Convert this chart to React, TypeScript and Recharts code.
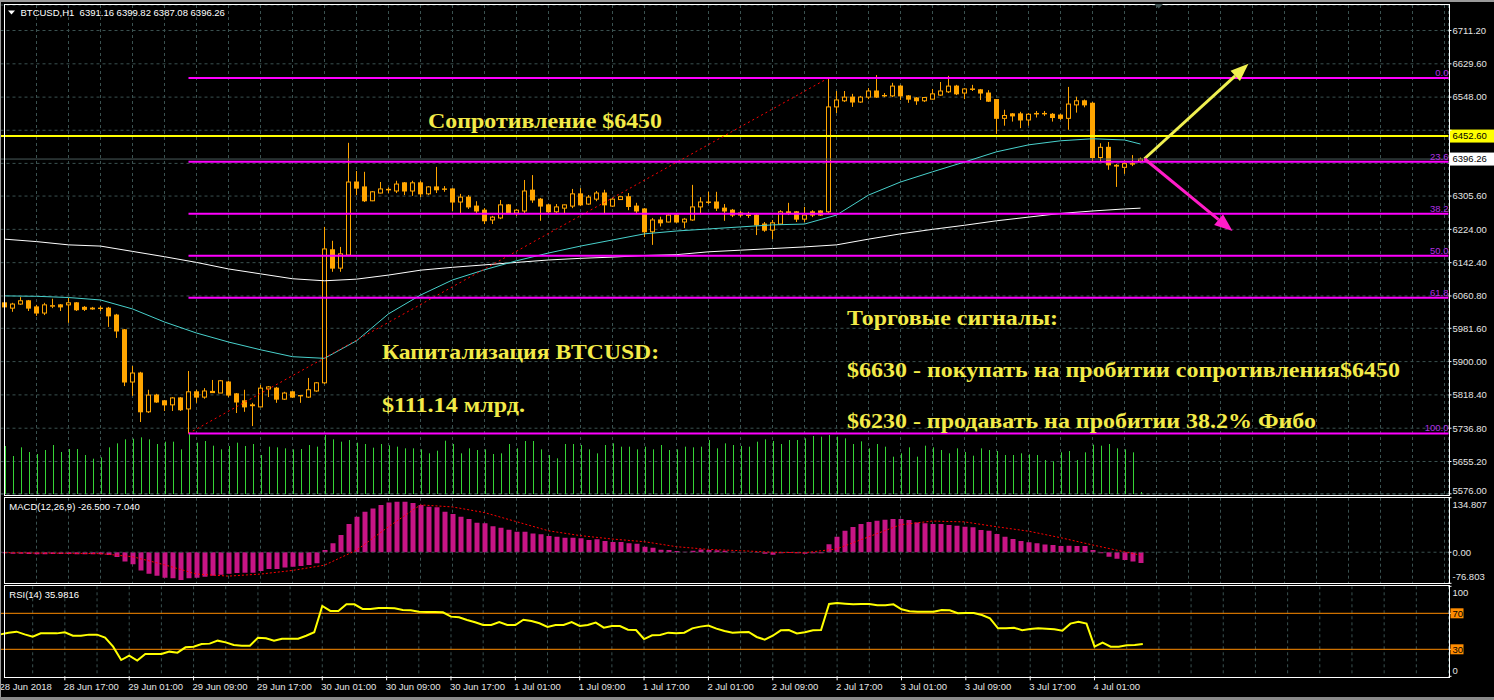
import React from 'react'
import {
  ComposedChart,
  Bar,
  Line,
  XAxis,
  YAxis,
  CartesianGrid,
  ReferenceLine,
} from 'recharts'

// BTCUSD H1, first bar 28 Jun 2018 09:00
const opens = [
  6044, 6031, 6041, 6049, 6034, 6019, 6036, 6039, 6039, 6044,
  6033, 6031, 6031, 6031, 6014, 5978, 5850, 5872, 5777, 5818,
  5804, 5794, 5811, 5784, 5826, 5813, 5827, 5823, 5850, 5821,
  5804, 5794, 5789, 5833, 5835, 5808, 5826, 5817, 5813, 5828,
  5848, 6174, 6129, 6161, 6340, 6328, 6294, 6313, 6321, 6318,
  6338, 6318, 6338, 6311, 6328, 6323, 6323, 6291, 6303, 6281,
  6271, 6247, 6252, 6284, 6264, 6269, 6320, 6298, 6284, 6267,
  6276, 6281, 6311, 6286, 6298, 6313, 6281, 6297, 6304, 6281,
  6274, 6218, 6247, 6242, 6259, 6242, 6247, 6279, 6291, 6291,
  6276, 6271, 6264, 6259, 6259, 6237, 6222, 6237, 6267, 6267,
  6249, 6267, 6269, 6267, 6524, 6539, 6548, 6536, 6548, 6563,
  6552, 6551, 6575, 6551, 6546, 6539, 6543, 6553, 6561, 6575,
  6558, 6567, 6566, 6558, 6542, 6496, 6507, 6507, 6492, 6507,
  6508, 6506, 6504, 6496, 6529, 6539, 6533, 6400, 6425, 6381,
  6376, 6384, 6391.16,
]
const highs = [
  6049, 6044, 6058, 6051, 6039, 6044, 6054, 6041, 6056, 6046,
  6036, 6034, 6036, 6034, 6017, 5980, 5889, 5875, 5831, 5821,
  5806, 5813, 5813, 5877, 5831, 5835, 5855, 5855, 5853, 5823,
  5831, 5799, 5843, 5840, 5838, 5826, 5828, 5818, 5860, 5850,
  6230, 6196, 6181, 6436, 6367, 6365, 6318, 6340, 6327, 6343,
  6340, 6343, 6343, 6330, 6377, 6330, 6325, 6311, 6308, 6293,
  6276, 6257, 6296, 6286, 6274, 6345, 6357, 6301, 6286, 6286,
  6285, 6323, 6325, 6308, 6318, 6321, 6301, 6306, 6313, 6289,
  6276, 6252, 6255, 6264, 6262, 6252, 6333, 6303, 6316, 6316,
  6286, 6274, 6269, 6267, 6262, 6242, 6247, 6271, 6289, 6269,
  6279, 6271, 6271, 6595, 6563, 6563, 6556, 6551, 6570, 6602,
  6558, 6583, 6578, 6553, 6548, 6548, 6568, 6585, 6600, 6578,
  6570, 6578, 6568, 6565, 6543, 6517, 6509, 6512, 6509, 6514,
  6514, 6509, 6507, 6573, 6549, 6542, 6536, 6435, 6438, 6384,
  6393, 6406, 6399.82,
]
const lows = [
  6029, 6022, 6039, 6024, 6012, 6014, 6031, 6024, 5995, 6024,
  6024, 6027, 6024, 5985, 5958, 5840, 5816, 5752, 5774, 5799,
  5779, 5779, 5779, 5724, 5799, 5809, 5823, 5823, 5813, 5774,
  5777, 5742, 5789, 5813, 5799, 5806, 5811, 5799, 5811, 5826,
  5845, 6120, 6120, 6159, 6308, 6291, 6293, 6312, 6313, 6313,
  6308, 6306, 6303, 6308, 6313, 6316, 6269, 6264, 6274, 6264,
  6237, 6237, 6249, 6262, 6257, 6264, 6289, 6245, 6264, 6264,
  6264, 6276, 6281, 6284, 6293, 6264, 6279, 6296, 6271, 6264,
  6205, 6186, 6231, 6241, 6240, 6227, 6245, 6264, 6286, 6269,
  6245, 6254, 6254, 6252, 6210, 6218, 6200, 6235, 6259, 6242,
  6242, 6254, 6257, 6264, 6509, 6536, 6524, 6534, 6543, 6546,
  6548, 6548, 6541, 6534, 6529, 6536, 6542, 6551, 6558, 6553,
  6543, 6563, 6541, 6536, 6458, 6478, 6488, 6472, 6478, 6498,
  6502, 6488, 6492, 6468, 6510, 6523, 6392, 6389, 6370, 6328,
  6360, 6379, 6387.08,
]
const closes = [
  6034, 6041, 6049, 6031, 6019, 6039, 6037, 6034, 6044, 6027,
  6028, 6029, 6030, 6012, 5975, 5850, 5872, 5777, 5818, 5801,
  5794, 5811, 5782, 5826, 5813, 5828, 5824, 5853, 5818, 5801,
  5789, 5792, 5835, 5838, 5808, 5823, 5813, 5816, 5831, 5848,
  6176, 6129, 6164, 6340, 6325, 6294, 6316, 6323, 6322, 6335,
  6318, 6338, 6311, 6328, 6321, 6322, 6291, 6303, 6279, 6269,
  6245, 6254, 6284, 6264, 6271, 6318, 6296, 6281, 6267, 6279,
  6284, 6311, 6284, 6303, 6313, 6284, 6298, 6304, 6280, 6269,
  6218, 6247, 6240, 6259, 6242, 6249, 6279, 6291, 6290, 6276,
  6269, 6259, 6259, 6258, 6235, 6222, 6240, 6267, 6263, 6249,
  6259, 6259, 6259, 6524, 6541, 6548, 6536, 6548, 6563, 6548,
  6551, 6575, 6551, 6543, 6539, 6547, 6556, 6563, 6575, 6556,
  6568, 6568, 6558, 6538, 6496, 6503, 6502, 6492, 6506, 6508,
  6507, 6498, 6496, 6531, 6539, 6529, 6400, 6425, 6382, 6379,
  6385, 6385, 6396.26,
]
const volumes = [
  1440, 1140, 1400, 1260, 1200, 1320, 1470, 1260, 1350, 1350, 1170, 1060, 1100, 1400, 1520, 1640, 1660, 1700, 1640, 1500,
  1570, 1570, 1340, 1800, 1540, 1590, 1450, 1340, 1440, 1540, 1440, 1500, 1170, 1420, 1400, 1370, 1340, 1350, 1470, 1420,
  1770, 1640, 1570, 1620, 1540, 1500, 1390, 1500, 1460, 1420, 1370, 1370, 1340, 1220, 1300, 1600, 1500, 1220, 1370, 1320,
  1340, 1200, 1220, 1500, 1370, 1590, 1590, 1340, 1170, 1070, 1500, 1500, 1470, 1340, 1220, 1470, 1520, 1420, 1420, 1340,
  1420, 1340, 1470, 1320, 1340, 1420, 1400, 1420, 1620, 1370, 1520, 1470, 1440, 1420, 1570, 1640, 1590, 1500, 1620, 1620,
  1670, 1740, 1720, 1770, 1720, 1670, 1500, 1580, 1370, 1500, 1420, 1120, 1220, 1400, 1120, 1450, 1400, 1320, 1220, 1370,
  1260, 1150, 1370, 1320, 1290, 1170, 1170, 1220, 1190, 1170, 1020, 980, 1250, 1290, 1020, 1250, 1480, 1450, 1500, 1370,
  1340, 1250, 60,
]
const macdHist = [
  -2.8, -3.5, -3.5, -4.3, -5, -5, -4.3, -4.3, -4.3, -5,
  -5, -5, -5, -7, -12, -23, -30, -45, -53, -58,
  -63, -64.6, -68.7, -64.6, -63, -60.5, -58, -55.5, -53, -51.4,
  -50.6, -50.6, -46.5, -41.5, -41.5, -38, -35.7, -34, -31.6, -27.5,
  5.4, 22, 42.5, 70, 88, 100, 108.4, 116.7, 123, 125,
  125, 121.6, 116.7, 112.6, 111, 100, 94.4, 88, 82, 73,
  71.4, 64, 60.6, 55.7, 50.8, 50.8, 46.6, 44.2, 40, 38.4,
  36, 36, 34.3, 30.2, 31.8, 27.7, 25.2, 25.2, 22, 21,
  13.7, 11.2, 6.3, 5.4, 3, 1.3, 3.8, 7, 5.4, 4.6,
  3.8, 1.3, 0.5, -0.3, -1.2, -3.6, -6, -2.8, -2, -2.8,
  -3.6, -2.8, -2.8, 20, 38.4, 53.2, 62.3, 69.7, 74.6, 78,
  80.4, 82, 82, 79.6, 73.8, 71.4, 69.7, 69.7, 67.2, 65.6,
  63, 61.5, 54.9, 53.2, 45, 38.4, 32.6, 27.7, 24.4, 21.9,
  19.4, 17.8, 15.3, 16.2, 15.3, 15.3, 5.4, -2.8, -11, -16,
  -19.5, -23, -26.5,
]
const rsiValues = [
  46.6, 48.5, 49.6, 46.6, 44, 47.7, 47.7, 47.7, 48.9, 45.1,
  45.1, 46.3, 46.3, 42.9, 32.9, 18.1, 22.9, 17.4, 24.8, 24.8,
  24.8, 27.4, 26.3, 32.2, 32.9, 35.9, 36.3, 39.6, 37.7, 34.8,
  34, 34, 42.9, 42.2, 39.6, 41.8, 41.8, 41.8, 45.1, 48.9,
  78.1, 72.6, 72.6, 80, 80, 74.8, 74.8, 75.9, 75.9, 75.5,
  73.7, 73.3, 71.8, 71.4, 71.4, 71.1, 66.3, 65.5, 62.6, 60,
  57, 57, 60.3, 57, 57, 62.9, 61.4, 58.9, 54.8, 57,
  57, 60.3, 55.9, 57, 59.6, 54, 55.9, 55.9, 51.8, 51.4,
  41.4, 45.5, 45.9, 48.5, 47.7, 48.5, 53.3, 55.2, 56.3, 53,
  50.3, 48.5, 48.9, 49.2, 43.7, 40.7, 45.1, 51.1, 51.4, 47.7,
  48.9, 51.1, 51.4, 80.3, 81.4, 80.7, 80, 80.3, 80.3, 78.9,
  78.9, 80, 74.4, 72.2, 71.8, 71.8, 71.8, 73.7, 73.3, 70,
  70.3, 70.3, 68.1, 64.4, 53.3, 53.3, 54, 51.1, 52.6, 53.3,
  52.9, 52.2, 50.7, 58.5, 60.7, 58.5, 32.9, 37.4, 32.9, 32.9,
  34.4, 34.8, 35.9816,
]

// moving averages and MACD signal, read every 4th bar
const sampleBars = [0, 4, 8, 12, 16, 20, 24, 28, 32, 36, 40, 44, 48, 52, 56, 60, 64, 68, 72, 76, 80, 84, 88, 92, 96, 100, 104, 108, 112, 116, 120, 124, 128, 132, 136, 140, 142]
const maFast = [6061, 6060, 6057, 6051, 6029, 5997, 5970, 5948, 5929, 5912, 5908, 5951, 6017, 6063, 6100, 6125, 6147, 6166, 6183, 6198, 6213, 6220, 6225, 6230, 6235, 6237, 6259, 6308, 6340, 6365, 6389, 6414, 6431, 6441, 6446, 6443, 6433]
const maSlow = [6200, 6194, 6186, 6183, 6170, 6157, 6143, 6127, 6115, 6103, 6098, 6102, 6112, 6124, 6131, 6137, 6143, 6149, 6153, 6156, 6160, 6162, 6169, 6173, 6177, 6181, 6186, 6200, 6213, 6224, 6234, 6245, 6254, 6263, 6269, 6274, 6276]
const macdSignal = [-1, -2, -2.5, -3.5, -11, -31, -54, -59, -54, -45, -32, 5, 63, 117, 112, 98, 75.5, 53, 41, 32.6, 26, 13.7, 7, 3.8, 0, -1.2, 8, 38, 68, 77, 75, 63, 52, 36, 18, 1, -7.04]

const timeLabels = [
  '28 Jun 2018', '28 Jun 17:00', '29 Jun 01:00', '29 Jun 09:00', '29 Jun 17:00',
  '30 Jun 01:00', '30 Jun 09:00', '30 Jun 17:00', '1 Jul 01:00', '1 Jul 09:00',
  '1 Jul 17:00', '2 Jul 01:00', '2 Jul 09:00', '2 Jul 17:00', '3 Jul 01:00',
  '3 Jul 09:00', '3 Jul 17:00', '4 Jul 01:00',
]
const priceTicks = [6711.2, 6629.6, 6548, 6466.8, 6385.6, 6305.6, 6224, 6142.4, 6060.8, 5981.6, 5900, 5818.4, 5736.8, 5655.2, 5576]
// these two sit under the price tags and are not readable on the terminal
const coveredTicks = [6466.8, 6385.6]
const fibHigh = 6595
const fibLow = 5724
const fibLevels = [0, 23.6, 38.2, 50, 61.8, 100]
const resistance = 6452.6
const lastPrice = 6396.26
const buyTarget = 6630
const sellTarget = 6220

const SLOTS = 181 // bars plus empty space on the right
const rows = Array.from({ length: SLOTS }, (_, i) => {
  const has = i < opens.length
  const s = sampleBars.indexOf(i)
  return {
    i,
    open: has ? opens[i] : null,
    high: has ? highs[i] : null,
    low: has ? lows[i] : null,
    close: has ? closes[i] : null,
    range: has ? [lows[i], highs[i]] : null,
    vol: has ? volumes[i] : null,
    macd: has ? macdHist[i] : null,
    rsi: has ? rsiValues[i] : null,
    fast: s >= 0 ? maFast[s] : null,
    slow: s >= 0 ? maSlow[s] : null,
    signal: s >= 0 ? macdSignal[s] : null,
  }
})
const gridTicks = rows.filter((r) => r.i % 4 === 0).map((r) => r.i)

const SANS = "'Liberation Sans', Arial, sans-serif"
const SERIF = "'Liberation Serif', 'Times New Roman', serif"
const GRID = '#3a5150'
const ORANGE = '#FFA500'
const AXIS_TEXT = '#e4e4e4'
const NOTE = '#F2EA48'

const Candle = (props: any) => {
  const { x, y, width, height, payload } = props
  if (!payload || payload.open == null) return null
  const { open, close, high, low } = payload
  const top = Math.min(y, y + height)
  const h = Math.abs(height)
  const cx = Math.round(x + width / 2 - 0.5) + 0.5
  const k = high > low ? h / (high - low) : 0
  const py = (v: number) => top + (high - v) * k
  const bTop = py(Math.max(open, close))
  const bBot = py(Math.min(open, close))
  const bull = close > open
  return (
    <g>
      <line x1={cx} x2={cx} y1={top} y2={top + h} stroke={ORANGE} />
      {bull ? (
        <rect x={cx - 2} y={bTop} width={4} height={Math.max(bBot - bTop, 0.5)} fill="#000" stroke={ORANGE} />
      ) : (
        <rect x={cx - 2.5} y={bTop - 0.5} width={5} height={Math.max(bBot - bTop, 0) + 1} fill={ORANGE} />
      )}
    </g>
  )
}

const VolumeStick = (props: any) => {
  const { x, y, width, height } = props
  if (!height) return null
  return <rect x={Math.round(x + width / 2 - 0.5)} y={y} width={1} height={height} fill="#36D436" />
}

const fibShape = (label: string) => (p: any) => (
  <g>
    <line x1={p.x1} y1={p.y1} x2={p.x2 + 4} y2={p.y2} stroke="#FF00FF" strokeWidth={2} />
    <text x={p.x2 + 4} y={p.y1 - 2} textAnchor="end" fill="#B030E0" fontSize={9.5} fontFamily={SANS}>
      {label}
    </text>
  </g>
)

const arrowShape = (color: string) => (p: any) => {
  const { x1, y1, x2, y2 } = p
  const a = Math.atan2(y2 - y1, x2 - x1)
  const bx = x2 - 18 * Math.cos(a)
  const by = y2 - 18 * Math.sin(a)
  const nx = -Math.sin(a) * 7
  const ny = Math.cos(a) * 7
  return (
    <g>
      <line x1={x1} y1={y1} x2={bx} y2={by} stroke={color} strokeWidth={3} />
      <polygon points={`${x2},${y2} ${bx + nx},${by + ny} ${bx - nx},${by - ny}`} fill={color} />
    </g>
  )
}

const PriceTag = ({ viewBox, text, bg }: any) => {
  if (!viewBox) return null
  const x = viewBox.x + viewBox.width + 1
  const y = viewBox.y
  return (
    <g>
      <rect x={x} y={y - 6.5} width={46} height={13} fill={bg} />
      <text x={x + 3} y={y} dy="0.35em" fill="#000" fontSize={9.5} fontFamily={SANS}>
        {text}
      </text>
    </g>
  )
}

const PriceTick = ({ x, y, payload }: any) => {
  const v = payload.value
  if (coveredTicks.includes(v)) return null
  const dy = v === 5576 ? -3 : 0
  return (
    <text x={x} y={y + dy} dy="0.35em" fill={AXIS_TEXT} fontSize={9.5} fontFamily={SANS}>
      {v.toFixed(2)}
    </text>
  )
}

const MacdTick = ({ x, y, payload }: any) => {
  const v = payload.value
  const dy = v > 0 ? 6.6 : v < 0 ? -6.6 : 0
  return (
    <text x={x} y={y + dy} dy="0.35em" fill={AXIS_TEXT} fontSize={9.5} fontFamily={SANS}>
      {v === 0 ? '0.00' : v.toFixed(3)}
    </text>
  )
}

const RsiTick = ({ x, y, payload }: any) => {
  const v = payload.value
  if (v === 70 || v === 30) {
    return (
      <g>
        <rect x={x - 2} y={y - 5} width={13} height={10} fill="#FF8C00" />
        <text x={x} y={y} dy="0.35em" fill="#000" fontSize={9.5} fontFamily={SANS}>{v}</text>
      </g>
    )
  }
  const dy = v === 100 ? 6 : -6
  return (
    <text x={x} y={y + dy} dy="0.35em" fill={AXIS_TEXT} fontSize={9.5} fontFamily={SANS}>{v}</text>
  )
}

const TimeTick = ({ x, y, payload }: any) => {
  const v = payload.value
  if (v % 8 !== 0 || v / 8 >= timeLabels.length) return null
  return (
    <g>
      <line x1={x} x2={x} y1={y} y2={y + 4} stroke="#fff" />
      <text x={x - 1} y={y + 14} fill={AXIS_TEXT} fontSize={9.5} fontFamily={SANS}>
        {timeLabels[v / 8]}
      </text>
    </g>
  )
}

const notes = [
  { text: 'Сопротивление $6450', x: 428, y: 128, w: 234 },
  { text: 'Капитализация BTCUSD:', x: 382, y: 359, w: 277 },
  { text: '$111.14 млрд.', x: 382, y: 412, w: 143 },
  { text: 'Торговые сигналы:', x: 847, y: 325, w: 211 },
  { text: '$6630 - покупать на пробитии сопротивления$6450', x: 847, y: 377, w: 553 },
  { text: '$6230 - продавать на пробитии 38.2% Фибо', x: 847, y: 428, w: 469 },
]

const frame = (top: number, height: number): React.CSSProperties => ({
  position: 'absolute',
  left: 4,
  top,
  width: 1446,
  height,
  boxSizing: 'border-box',
  border: '1px solid #fff',
  pointerEvents: 'none',
})

export default function App() {
  return (
    <div style={{ position: 'absolute', left: 0, top: 0, width: 1494, height: 700, background: '#000', overflow: 'hidden' }}>
      <div style={{ position: 'absolute', left: 0, top: 0 }}>
        <ComposedChart width={1494} height={495} data={rows} margin={{ top: 5, right: 0, bottom: 1, left: 0.5 }}>
          <CartesianGrid stroke={GRID} strokeDasharray="3 3" />
          <XAxis dataKey="i" hide ticks={gridTicks} interval={0} />
          <XAxis xAxisId="vol" dataKey="i" hide />
          <YAxis
            orientation="right"
            domain={[5575.6, 6773.7]}
            allowDataOverflow
            ticks={priceTicks}
            interval={0}
            width={45.5}
            tick={<PriceTick />}
            tickSize={3}
            tickMargin={1}
            tickLine={{ stroke: '#fff' }}
            axisLine={false}
          />
          <YAxis yAxisId="vol" hide domain={[0, 14670]} />
          <Bar xAxisId="vol" yAxisId="vol" dataKey="vol" barSize={1} shape={(p: any) => <VolumeStick {...p} />} isAnimationActive={false} />
          <ReferenceLine y={lastPrice} stroke="#4a5c5c" label={<PriceTag text={lastPrice.toFixed(2)} bg="#fff" />} />
          <ReferenceLine y={resistance} stroke="#FFFF00" strokeWidth={2} label={<PriceTag text={resistance.toFixed(2)} bg="#FFFF00" />} />
          <Line dataKey="slow" stroke="#ffffff" strokeWidth={1} dot={false} connectNulls isAnimationActive={false} />
          <Line dataKey="fast" stroke="#48D1CC" strokeWidth={1} dot={false} connectNulls isAnimationActive={false} />
          <ReferenceLine
            segment={[{ x: 23, y: fibLow }, { x: 103, y: fibHigh }]}
            stroke="#FF0000"
            strokeDasharray="2 3"
          />
          <Bar dataKey="range" shape={(p: any) => <Candle {...p} />} isAnimationActive={false} />
          {fibLevels.map((lv) => (
            <ReferenceLine
              key={lv}
              segment={[
                { x: 23, y: fibHigh - (lv / 100) * (fibHigh - fibLow) },
                { x: 180, y: fibHigh - (lv / 100) * (fibHigh - fibLow) },
              ]}
              shape={fibShape(lv.toFixed(1))}
            />
          ))}
          <ReferenceLine
            segment={[{ x: 142, y: 6397 }, { x: 155, y: buyTarget }]}
            position="end"
            shape={arrowShape('#F0F050')}
          />
          <ReferenceLine
            segment={[{ x: 142, y: 6397 }, { x: 153, y: sellTarget }]}
            position="end"
            shape={arrowShape('#FF1CC8')}
          />
        </ComposedChart>
      </div>

      <div style={{ position: 'absolute', left: 0, top: 496 }}>
        <ComposedChart width={1494} height={88} data={rows} margin={{ top: 1.7, right: 0, bottom: 0.7, left: 0.5 }}>
          <CartesianGrid horizontal={false} stroke={GRID} strokeDasharray="3 3" />
          <XAxis dataKey="i" hide ticks={gridTicks} interval={0} />
          <YAxis
            orientation="right"
            domain={[-76.803, 134.807]}
            allowDataOverflow
            ticks={[134.807, 0, -76.803]}
            interval={0}
            width={45.5}
            tick={<MacdTick />}
            tickSize={3}
            tickMargin={1}
            tickLine={{ stroke: '#fff' }}
            axisLine={false}
          />
          <ReferenceLine y={0} stroke={GRID} strokeDasharray="3 3" />
          <Bar dataKey="macd" fill="#C71585" barSize={5} isAnimationActive={false} />
          <Line dataKey="signal" stroke="#FF0000" strokeDasharray="2 2" dot={false} connectNulls isAnimationActive={false} />
        </ComposedChart>
      </div>

      <div style={{ position: 'absolute', left: 0, top: 584 }}>
        <ComposedChart width={1494} height={116} data={rows} margin={{ top: 2.3, right: 0, bottom: 0, left: 0.5 }}>
          <CartesianGrid horizontal={false} stroke={GRID} strokeDasharray="3 3" />
          <XAxis
            dataKey="i"
            ticks={gridTicks}
            interval={0}
            height={23.7}
            tick={<TimeTick />}
            tickSize={0}
            tickMargin={0}
            tickLine={false}
            axisLine={false}
          />
          <YAxis
            orientation="right"
            domain={[0, 100]}
            ticks={[100, 70, 30, 0]}
            interval={0}
            width={45.5}
            tick={<RsiTick />}
            tickSize={3}
            tickMargin={1}
            tickLine={{ stroke: '#fff' }}
            axisLine={false}
          />
          <ReferenceLine y={70} stroke="#FF8C00" />
          <ReferenceLine y={30} stroke="#FF8C00" />
          <Line dataKey="rsi" stroke="#FFFF00" strokeWidth={2} dot={false} isAnimationActive={false} />
        </ComposedChart>
      </div>

      <div style={frame(4, 492)} />
      <div style={frame(497, 87)} />
      <div style={frame(585, 93)} />
      <div style={{ position: 'absolute', left: 0, top: 0, width: 1494, height: 2, background: '#9a9a9a' }} />
      <div style={{ position: 'absolute', left: 0, top: 0, width: 1, height: 700, background: '#9a9a9a' }} />
      <div style={{ position: 'absolute', left: 0, top: 697, width: 1494, height: 3, background: '#8a8a8a' }} />

      <svg width={1494} height={700} style={{ position: 'absolute', left: 0, top: 0, pointerEvents: 'none' }}>
        <polygon points="8,10.5 15,10.5 11.5,14.5" fill="#fff" />
        <text x={20.5} y={16.2} fill="#fff" fontSize={9.5} fontFamily={SANS} style={{ whiteSpace: 'pre' }}>
          {'BTCUSD,H1  6391.16 6399.82 6387.08 6396.26'}
        </text>
        <polygon points="1154.5,4 1163,4 1158.7,8.5" fill="#3f5252" />
        <text x={9.3} y={510.3} fill="#fff" fontSize={9.5} fontFamily={SANS}>MACD(12,26,9) -26.500 -7.040</text>
        <text x={9.3} y={597.7} fill="#fff" fontSize={9.5} fontFamily={SANS}>RSI(14) 35.9816</text>
        {notes.map((n) => (
          <text
            key={n.text}
            x={n.x}
            y={n.y}
            fill={NOTE}
            fontSize={22}
            fontWeight="bold"
            fontFamily={SERIF}
            textLength={n.w}
            lengthAdjust="spacingAndGlyphs"
          >
            {n.text}
          </text>
        ))}
      </svg>
    </div>
  )
}
